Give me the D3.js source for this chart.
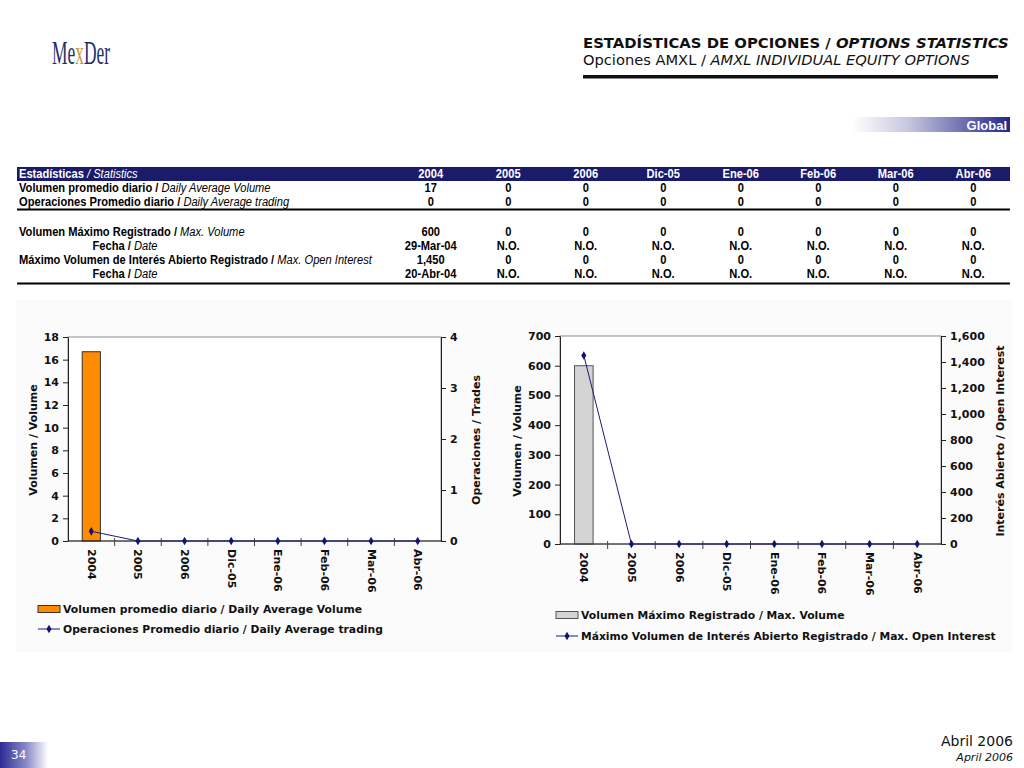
<!DOCTYPE html>
<html>
<head>
<meta charset="utf-8">
<script src="https://cdn.jsdelivr.net/npm/d3@7/dist/d3.min.js"></script>
<style>
  html, body { margin: 0; padding: 0; background: #ffffff; }
  svg { display: block; }
  .narrow { font-family: 'Liberation Sans Narrow', 'Arial Narrow', 'Liberation Sans', Arial, sans-serif; }
  .verd { font-family: 'DejaVu Sans', Verdana, sans-serif; }
</style>
</head>
<body>
<svg id="page" width="1024" height="768"></svg>
<script>
// ---------------- DATA ----------------
const categories = ["2004", "2005", "2006", "Dic-05", "Ene-06", "Feb-06", "Mar-06", "Abr-06"];
const dailyAvgVolume = [16.7, 0, 0, 0, 0, 0, 0, 0];
const dailyAvgTrading = [0.19, 0, 0, 0, 0, 0, 0, 0];
const maxVolume = [600, 0, 0, 0, 0, 0, 0, 0];
const maxOpenInterest = [1450, 0, 0, 0, 0, 0, 0, 0];

const leftVolTicks = [0, 2, 4, 6, 8, 10, 12, 14, 16, 18];
const leftTradeTicks = [0, 1, 2, 3, 4];
const rightVolTicks = [0, 100, 200, 300, 400, 500, 600, 700];
const rightOITicks = [0, 200, 400, 600, 800, 1000, 1200, 1400, 1600];

const tableVolRow = ["17", "0", "0", "0", "0", "0", "0", "0"];
const tableOpsRow = ["0", "0", "0", "0", "0", "0", "0", "0"];
const tableMaxVolRow = ["600", "0", "0", "0", "0", "0", "0", "0"];
const tableMaxVolDate = ["29-Mar-04", "N.O.", "N.O.", "N.O.", "N.O.", "N.O.", "N.O.", "N.O."];
const tableMaxOIRow = ["1,450", "0", "0", "0", "0", "0", "0", "0"];
const tableMaxOIDate = ["20-Abr-04", "N.O.", "N.O.", "N.O.", "N.O.", "N.O.", "N.O.", "N.O."];

// ---------------- PAGE ----------------
const svg = d3.select("#page");
const defs = svg.append("defs");
const navy = "#1b1b6b";

function grad(id, stops) {
  const g = defs.append("linearGradient").attr("id", id).attr("x1", "0%").attr("x2", "100%").attr("y1", "0%").attr("y2", "0%");
  stops.forEach(s => g.append("stop").attr("offset", s[0]).attr("stop-color", s[1]));
}
grad("gGlobal", [["0%", "#ffffff"], ["35%", "#c8c8e0"], ["100%", "#26268a"]]);
grad("gPage", [["0%", "#2b2b95"], ["55%", "#8a8ac8"], ["100%", "#ffffff"]]);

function fit(sel, w) {
  const n = sel.node();
  const len = n.getComputedTextLength();
  const fs = parseFloat(sel.attr("font-size"));
  sel.attr("font-size", (fs * w / len).toFixed(2));
}
// horizontal condensing about each text's anchor x
function squeeze(sel, k) {
  sel.each(function () {
    const ax = +this.getAttribute("x");
    d3.select(this).attr("transform", `translate(${ax},0) scale(${k},1) translate(${-ax},0)`);
  });
}

// Logo
const logo = svg.append("text").attr("x", 52).attr("y", 64)
  .attr("font-family", "'Liberation Serif', 'DejaVu Serif', serif").attr("font-size", 33)
  .attr("fill", "#1d2f6e");
logo.append("tspan").text("Me");
logo.append("tspan").attr("fill", "#c99a4a").text("x");
logo.append("tspan").text("Der");
{
  const len = logo.node().getComputedTextLength();
  squeeze(logo, 58 / len);
}

// Header
const h1 = svg.append("text").attr("class", "verd").attr("x", 583).attr("y", 48).attr("font-size", 14).attr("font-weight", "bold").attr("fill", "#111");
h1.append("tspan").text("ESTADÍSTICAS DE OPCIONES / ");
h1.append("tspan").attr("font-style", "italic").text("OPTIONS STATISTICS");
fit(h1, 426);
const h2 = svg.append("text").attr("class", "verd").attr("x", 583).attr("y", 65).attr("font-size", 14).attr("fill", "#111");
h2.append("tspan").text("Opciones AMXL / ");
h2.append("tspan").attr("font-style", "italic").text("AMXL INDIVIDUAL EQUITY OPTIONS");
fit(h2, 387);
svg.append("rect").attr("x", 583).attr("y", 75).attr("width", 415).attr("height", 3.5).attr("fill", "#111");

// Global banner
svg.append("rect").attr("x", 852).attr("y", 117).attr("width", 158).attr("height", 15).attr("fill", "url(#gGlobal)");
svg.append("text").attr("x", 1007).attr("y", 130).attr("text-anchor", "end")
  .attr("font-family", "'Liberation Sans', Arial, sans-serif").attr("font-weight", "bold").attr("font-size", 13)
  .attr("fill", "#fff").text("Global");

// ---------------- TABLE ----------------
const colX = d3.scaleBand().domain(categories).range([392, 1012]);
const tbl = svg.append("g").attr("class", "narrow").attr("font-size", 12.5);
tbl.append("rect").attr("x", 17).attr("y", 167).attr("width", 993).attr("height", 14).attr("fill", navy);
const hdr = tbl.append("text").attr("x", 19).attr("y", 178.5).attr("fill", "#fff");
hdr.append("tspan").attr("font-weight", "bold").text("Estadísticas");
hdr.append("tspan").attr("font-style", "italic").text(" / Statistics");
tbl.selectAll("text.colh").data(categories).join("text").attr("class", "colh")
  .attr("x", d => colX(d) + colX.bandwidth() / 2).attr("y", 178.5).attr("text-anchor", "middle")
  .attr("fill", "#fff").attr("font-weight", "bold").text(d => d);

const rows = [
  { y: 192.5, bold: "Volumen promedio diario", ital: "Daily Average Volume", vals: tableVolRow, center: false },
  { y: 206.5, bold: "Operaciones Promedio diario", ital: "Daily Average trading", vals: tableOpsRow, center: false },
  { y: 236.5, bold: "Volumen Máximo Registrado", ital: "Max. Volume", vals: tableMaxVolRow, center: false },
  { y: 250.5, bold: "Fecha", ital: "Date", vals: tableMaxVolDate, center: true },
  { y: 264.5, bold: "Máximo Volumen de Interés Abierto Registrado", ital: "Max. Open Interest", vals: tableMaxOIRow, center: false },
  { y: 278.5, bold: "Fecha", ital: "Date", vals: tableMaxOIDate, center: true }
];
rows.forEach(r => {
  const t = tbl.append("text").attr("class", "tt").attr("x", r.center ? 125 : 19).attr("y", r.y)
    .attr("text-anchor", r.center ? "middle" : "start").attr("fill", "#000");
  t.append("tspan").attr("font-weight", "bold").text(r.bold + " / ");
  t.append("tspan").attr("font-style", "italic").text(r.ital);
  tbl.selectAll(null).data(r.vals).join("text").attr("class", "tt")
    .attr("x", (d, i) => colX(categories[i]) + colX.bandwidth() / 2).attr("y", r.y)
    .attr("text-anchor", "middle").attr("font-weight", "bold").attr("fill", "#000").text(d => d);
});
squeeze(tbl.selectAll("text"), 0.89);
tbl.append("rect").attr("x", 17).attr("y", 208.5).attr("width", 993).attr("height", 2).attr("fill", "#000");
tbl.append("rect").attr("x", 17).attr("y", 282.5).attr("width", 993).attr("height", 2).attr("fill", "#000");

// ---------------- CHART PANEL ----------------
svg.append("rect").attr("x", 16).attr("y", 300).attr("width", 996).attr("height", 352).attr("fill", "#fbfbfb");

function drawChart(cfg) {
  const g = svg.append("g").attr("class", "verd");
  const x = d3.scaleBand().domain(categories).range([cfg.x0, cfg.x1]);
  const yL = d3.scaleLinear().domain([0, d3.max(cfg.leftTicks)]).range([cfg.yB, cfg.yT]);
  const yR = d3.scaleLinear().domain([0, d3.max(cfg.rightTicks)]).range([cfg.yB, cfg.yT]);

  g.append("rect").attr("x", cfg.x0).attr("y", cfg.yT).attr("width", cfg.x1 - cfg.x0).attr("height", cfg.yB - cfg.yT)
    .attr("fill", "#ffffff").attr("stroke", "#8c8c8c").attr("stroke-width", 1);

  // bars
  const bw = x.bandwidth() * 0.39;
  g.selectAll("rect.bar").data(cfg.bars).join("rect").attr("class", "bar")
    .attr("x", (d, i) => x(categories[i]) + x.bandwidth() / 2 - bw / 2)
    .attr("y", d => yL(d)).attr("width", bw).attr("height", d => cfg.yB - yL(d))
    .attr("fill", cfg.barColor).attr("stroke", cfg.barStroke).attr("stroke-width", 1);

  const tickFont = s => s.selectAll("text").attr("font-family", "'DejaVu Sans', Verdana, sans-serif")
    .attr("font-size", 11).attr("font-weight", "bold").attr("fill", "#111");

  const axL = g.append("g").attr("transform", `translate(${cfg.x0},0)`)
    .call(d3.axisLeft(yL).tickValues(cfg.leftTicks).tickSize(5).tickSizeOuter(0).tickPadding(4).tickFormat(d3.format(",")));
  tickFont(axL);
  const axR = g.append("g").attr("transform", `translate(${cfg.x1},0)`)
    .call(d3.axisRight(yR).tickValues(cfg.rightTicks).tickSize(5).tickSizeOuter(0).tickPadding(4).tickFormat(d3.format(",")));
  tickFont(axR);
  [axL, axR].forEach(a => { a.selectAll("path,line").attr("stroke", "#222"); });

  // x axis
  g.append("line").attr("x1", cfg.x0).attr("x2", cfg.x1).attr("y1", cfg.yB).attr("y2", cfg.yB).attr("stroke", "#222");
  const bounds = categories.slice(1).map(c => x(c));
  g.selectAll("line.xt").data(bounds).join("line").attr("class", "xt")
    .attr("x1", d => d).attr("x2", d => d).attr("y1", cfg.yB - 3).attr("y2", cfg.yB + 5).attr("stroke", "#444");
  g.selectAll("text.xl").data(categories).join("text").attr("class", "xl")
    .attr("transform", d => `translate(${x(d) + x.bandwidth() / 2},${cfg.yB + 8}) rotate(90)`)
    .attr("dominant-baseline", "central").attr("font-size", 11).attr("font-weight", "bold").attr("fill", "#111")
    .text(d => d);

  // line
  const line = d3.line().x((d, i) => x(categories[i]) + x.bandwidth() / 2).y(d => yR(d));
  g.append("path").datum(cfg.line).attr("d", line).attr("fill", "none").attr("stroke", "#1a1a80").attr("stroke-width", 1);
  const sym = d3.symbol().type(d3.symbolDiamond).size(22);
  g.selectAll("path.pt").data(cfg.line).join("path").attr("class", "pt")
    .attr("transform", (d, i) => `translate(${x(categories[i]) + x.bandwidth() / 2},${yR(d)})`)
    .attr("d", sym).attr("fill", "#14146e");

  // axis titles
  g.append("text").attr("transform", `translate(${cfg.tL},${(cfg.yT + cfg.yB) / 2 + 1}) rotate(-90)`)
    .attr("text-anchor", "middle").attr("dominant-baseline", "central").attr("font-size", 11).attr("font-weight", "bold").attr("fill", "#111")
    .text(cfg.titleL);
  g.append("text").attr("transform", `translate(${cfg.tR},${(cfg.yT + cfg.yB) / 2 + 1}) rotate(-90)`)
    .attr("text-anchor", "middle").attr("dominant-baseline", "central").attr("font-size", 11).attr("font-weight", "bold").attr("fill", "#111")
    .text(cfg.titleR);

  // legend
  const lg = g.append("g");
  lg.append("rect").attr("x", cfg.lx).attr("y", cfg.ly1 - 3.5).attr("width", 22).attr("height", 7)
    .attr("fill", cfg.barColor).attr("stroke", cfg.barStroke);
  const t1 = lg.append("text").attr("x", cfg.lx + 25).attr("y", cfg.ly1).attr("dominant-baseline", "central")
    .attr("font-size", 10.5).attr("font-weight", "bold").attr("fill", "#111").text(cfg.leg1);
  fit(t1, cfg.leg1W);
  lg.append("line").attr("x1", cfg.lx).attr("x2", cfg.lx + 22).attr("y1", cfg.ly2).attr("y2", cfg.ly2).attr("stroke", "#1a1a80");
  lg.append("path").attr("transform", `translate(${cfg.lx + 11},${cfg.ly2})`).attr("d", sym).attr("fill", "#14146e");
  const t2 = lg.append("text").attr("x", cfg.lx + 25).attr("y", cfg.ly2).attr("dominant-baseline", "central")
    .attr("font-size", 10.5).attr("font-weight", "bold").attr("fill", "#111").text(cfg.leg2);
  fit(t2, cfg.leg2W);
}

drawChart({
  x0: 68, x1: 441, yT: 337, yB: 541,
  leftTicks: leftVolTicks, rightTicks: leftTradeTicks,
  bars: dailyAvgVolume, line: dailyAvgTrading,
  barColor: "#ff8c00", barStroke: "#333",
  titleL: "Volumen / Volume", titleR: "Operaciones / Trades", tL: 33, tR: 476,
  lx: 38, ly1: 609, ly2: 629,
  leg1: "Volumen promedio diario / Daily Average Volume", leg1W: 299,
  leg2: "Operaciones Promedio diario / Daily Average trading", leg2W: 320
});
drawChart({
  x0: 560, x1: 941, yT: 336, yB: 544,
  leftTicks: rightVolTicks, rightTicks: rightOITicks,
  bars: maxVolume, line: maxOpenInterest,
  barColor: "#d4d4d4", barStroke: "#555",
  titleL: "Volumen / Volume", titleR: "Interés Abierto / Open Interest", tL: 517, tR: 1000,
  lx: 556, ly1: 615, ly2: 636,
  leg1: "Volumen Máximo Registrado / Max. Volume", leg1W: 264,
  leg2: "Máximo Volumen de Interés Abierto Registrado / Max. Open Interest", leg2W: 415
});

// ---------------- FOOTER ----------------
svg.append("rect").attr("x", 0).attr("y", 742).attr("width", 48).attr("height", 26).attr("fill", "url(#gPage)");
svg.append("text").attr("class", "verd").attr("x", 11).attr("y", 759).attr("font-size", 12).attr("fill", "#fff").text("34");
svg.append("text").attr("class", "verd").attr("x", 1013).attr("y", 746).attr("text-anchor", "end").attr("font-size", 14).attr("fill", "#111").text("Abril 2006");
svg.append("text").attr("class", "verd").attr("x", 1013).attr("y", 761).attr("text-anchor", "end").attr("font-size", 11).attr("font-style", "italic").attr("fill", "#111").text("April 2006");
</script>
</body>
</html>
